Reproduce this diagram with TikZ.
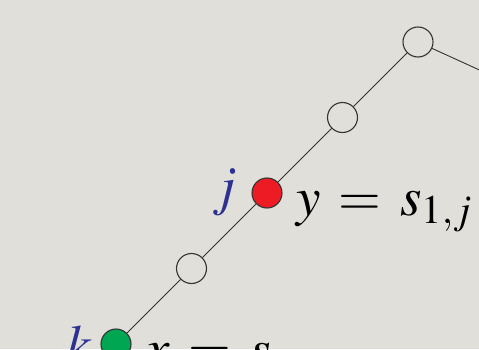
\documentclass[tikz,border=0pt]{standalone}
\usepackage{mathptmx}
\definecolor{bgc}{HTML}{E0DFD9}
\definecolor{redc}{HTML}{ED1C24}
\definecolor{greenc}{HTML}{00A651}
\definecolor{bluec}{HTML}{2E3192}
\definecolor{linec}{HTML}{333333}
\tikzset{
  vtx/.style={circle, draw=linec, line width=1.1pt, minimum size=30pt, inner sep=0pt, fill=bgc},
  edge/.style={draw=linec, line width=0.9pt},
  lbl/.style={inner sep=0pt, font=\fontsize{55}{60}\selectfont},
}
\newcommand{\wideeq}{\mathrel{\,=\,}}
\begin{document}
\begin{tikzpicture}[x=1pt,y=1pt]
\useasboundingbox (0,0) rectangle (479,349);
\clip (0,0) rectangle (479,349);
\fill[bgc] (0,0) rectangle (479,349);
\coordinate (out) at (530,256);
\node[vtx] (a) at (418,307) {};
\node[vtx] (b) at (342.5,231.5) {};
\node[vtx, fill=redc] (c) at (267,156) {};
\node[vtx] (d) at (191.5,80.5) {};
\node[vtx, fill=greenc] (e) at (116,5) {};
\draw[edge] (a) -- (out);
\draw[edge] (a) -- (b);
\draw[edge] (b) -- (c);
\draw[edge] (c) -- (d);
\draw[edge] (d) -- (e);
\node[lbl, anchor=base west] (ylab) at (296,134) {$y \wideeq s_{1,j}$};
\node[lbl, anchor=base west, text=bluec] (jlab) at (212,145) {$j$};
\node[lbl, anchor=base west] (xlab) at (145,-18) {$x \wideeq s$};
\node[lbl, anchor=base west, text=bluec] (klab) at (66,-14) {$k$};
\end{tikzpicture}
\end{document}
